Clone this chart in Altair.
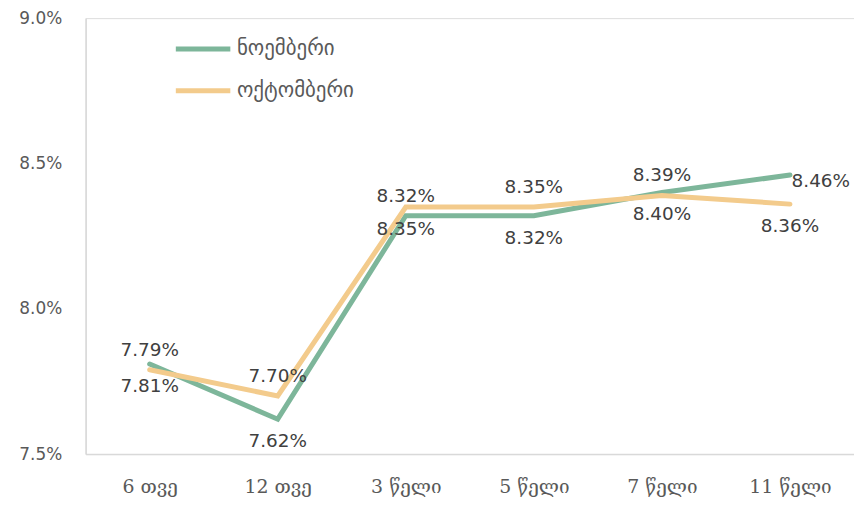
import altair as alt
import pandas as pd

categories = ["6 თვე", "12 თვე", "3 წელი", "5 წელი", "7 წელი", "11 წელი"]
series_names = ["ნოემბერი", "ოქტომბერი"]
november = [7.81, 7.62, 8.32, 8.32, 8.40, 8.46]
october = [7.79, 7.70, 8.35, 8.35, 8.39, 8.36]
labels_above = [7.79, 7.70, 8.32, 8.35, 8.39, 8.46]
labels_below = [7.81, 7.62, 8.35, 8.32, 8.40, 8.36]

rows = []
for c, v in zip(categories, november):
    rows.append({"cat": c, "series": series_names[0], "value": v})
for c, v in zip(categories, october):
    rows.append({"cat": c, "series": series_names[1], "value": v})
df = pd.DataFrame(rows)

lab_up = pd.DataFrame({"cat": categories, "value": labels_above})
lab_up["txt"] = lab_up["value"].map(lambda v: f"{v:.2f}%")
lab_dn = pd.DataFrame({"cat": categories, "value": labels_below})
lab_dn["txt"] = lab_dn["value"].map(lambda v: f"{v:.2f}%")

last_cat = categories[-1]

xenc = alt.X("cat:N", sort=categories, title=None,
             scale=alt.Scale(type="point", padding=0.5),
             axis=alt.Axis(labelFont="DejaVu Serif", labelFontSize=19, labelColor="#595959",
                           ticks=False, domainColor="#d9d9d9", domainWidth=1.5,
                           labelPadding=24, labelAngle=0, grid=False))
yscale = alt.Scale(domain=[7.5, 9.0], nice=False, zero=False)

lines = alt.Chart(df).mark_line(strokeWidth=5, strokeCap="round").encode(
    x=xenc,
    y=alt.Y("value:Q", scale=yscale, title=None,
            axis=alt.Axis(values=[7.5, 8.0, 8.5, 9.0], labelExpr="format(datum.value, '.1f') + '%'",
                          labelFont="DejaVu Sans", labelFontSize=17, labelColor="#595959",
                          ticks=False, grid=False, domainColor="#d9d9d9", domainWidth=1.5,
                          labelPadding=24)),
    color=alt.Color("series:N", sort=series_names,
                    scale=alt.Scale(domain=series_names, range=["#7db69a", "#f3cb8c"]),
                    legend=alt.Legend(title=None, orient="none", legendX=88, legendY=1,
                                      symbolType="stroke", symbolSize=3000, symbolStrokeWidth=5,
                                      labelFont="DejaVu Sans", labelFontSize=21, labelColor="#595959",
                                      rowPadding=2, labelOffset=4)),
)

t_up = alt.Chart(lab_up).transform_filter(alt.datum.cat != last_cat).mark_text(
    fontSize=18.5, color="#404040", font="DejaVu Sans", dy=-20).encode(
    x=alt.X("cat:N", sort=categories), y=alt.Y("value:Q", scale=yscale), text="txt:N")
t_last = alt.Chart(lab_up).transform_filter(alt.datum.cat == last_cat).mark_text(
    fontSize=18.5, color="#404040", font="DejaVu Sans", dx=31, dy=6).encode(
    x=alt.X("cat:N", sort=categories), y=alt.Y("value:Q", scale=yscale), text="txt:N")
t_dn = alt.Chart(lab_dn).mark_text(fontSize=18.5, color="#404040", font="DejaVu Sans", dy=22).encode(
    x=alt.X("cat:N", sort=categories), y=alt.Y("value:Q", scale=yscale), text="txt:N")

chart = alt.layer(lines, t_up, t_last, t_dn).properties(
    width=772, height=438,
    autosize=alt.AutoSizeParams(type="none"),
    padding={"left": 78, "top": 9, "right": 0, "bottom": 50},
).configure_view(stroke=None).configure(background="white")

chart.save("out.html", embed_options={"renderer": "svg", "actions": False})
